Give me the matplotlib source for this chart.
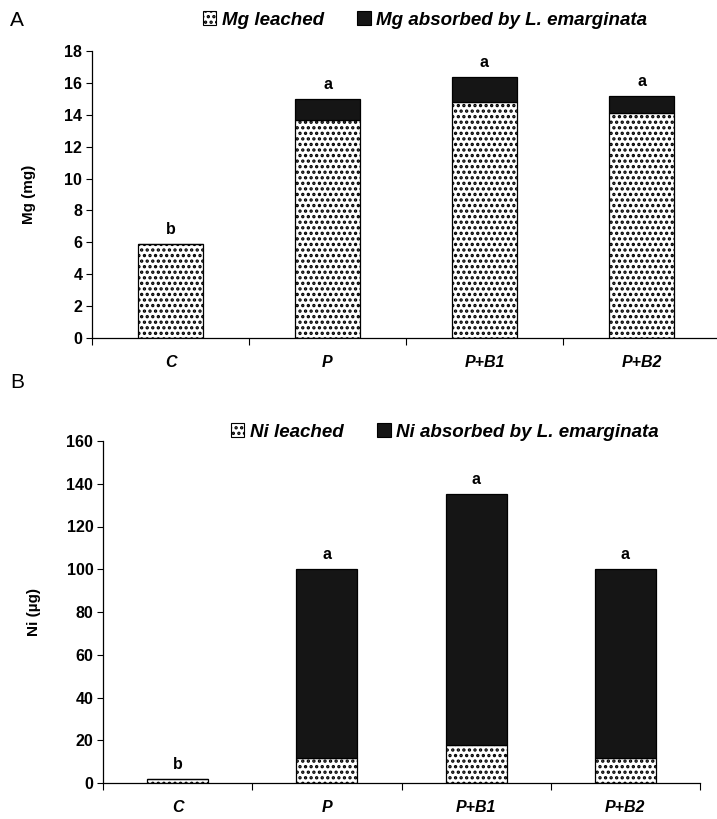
import matplotlib
matplotlib.use("Agg")
import matplotlib.pyplot as plt
import numpy as np
from matplotlib.patches import Patch

plt.rcParams['font.family'] = ['Liberation Sans', 'DejaVu Sans']
plt.rcParams['hatch.linewidth'] = 1.6

categories = ["C", "P", "P+B1", "P+B2"]
mg_leached = [5.9, 13.7, 14.8, 14.1]
mg_absorbed = [0.0, 1.3, 1.6, 1.1]
mg_letters = ["b", "a", "a", "a"]
ni_leached = [2.0, 11.7, 18.0, 11.5]
ni_absorbed = [0.0, 88.5, 117.0, 88.7]
ni_letters = ["b", "a", "a", "a"]

W, H = 717, 819
fig = plt.figure(figsize=(W / 100, H / 100), dpi=100)

def ax_rect(left, right, top, bottom):
    return [left / W, 1 - bottom / H, (right - left) / W, (bottom - top) / H]

axA = fig.add_axes(ax_rect(92, 720, 51, 338))
axB = fig.add_axes(ax_rect(103, 700, 441, 783))

dark = '#151515'
HATCH = '...'

def draw(ax, leached, absorbed, letters, ymax, ystep, ylabel, ylabelpad, leg_labels, leg_pos, panel, panel_pos):
    x = np.arange(len(categories))
    w = 0.41
    ax.bar(x, leached, width=w, facecolor='white', edgecolor='black', hatch=HATCH, linewidth=0.9, zorder=2)
    ax.bar(x, absorbed, width=w, bottom=leached, facecolor=dark, edgecolor='black', linewidth=0.9, zorder=2)
    tot = np.array(leached) + np.array(absorbed)
    for xi, t, l in zip(x, tot, letters):
        ax.annotate(l, (xi, t), xytext=(0, 5), textcoords='offset points', ha='center', va='bottom',
                    fontsize=11.5, fontweight='bold')
    ax.set_xlim(-0.5, len(categories) - 0.5)
    ax.set_ylim(0, ymax)
    ax.set_yticks(np.arange(0, ymax + ystep / 2, ystep))
    ax.set_xticks(x)
    ax.set_xticklabels(categories, fontsize=11.5, fontweight='bold', fontstyle='italic')
    ax.set_xticks(np.arange(-0.5, len(categories)), minor=True)
    ax.tick_params(axis='x', which='major', length=0, pad=12)
    ax.tick_params(axis='x', which='minor', length=5, width=0.8, direction='out')
    ax.tick_params(axis='y', length=4, width=0.8, labelsize=11.5, pad=3)
    for lab in ax.get_yticklabels():
        lab.set_fontweight('bold')
    ax.spines['top'].set_visible(False)
    ax.spines['right'].set_visible(False)
    ax.spines['left'].set_linewidth(0.9)
    ax.spines['bottom'].set_linewidth(0.9)
    ax.set_ylabel(ylabel, fontsize=11, fontweight='bold', labelpad=ylabelpad)
    handles = [Patch(facecolor='white', edgecolor='black', hatch=HATCH, linewidth=0.8),
               Patch(facecolor=dark, edgecolor='black', linewidth=0.8)]
    fig.legend(handles, leg_labels, loc='center', bbox_to_anchor=leg_pos, ncol=2, frameon=False,
               prop={'size': 13.5, 'weight': 'bold', 'style': 'italic'}, handlelength=0.7, handleheight=0.7,
               handletextpad=0.3, columnspacing=1.8)
    fig.text(panel_pos[0], panel_pos[1], panel, fontsize=15, ha='left', va='center')

draw(axA, mg_leached, mg_absorbed, mg_letters, 18, 2, 'Mg (mg)', 20,
     ['Mg leached', 'Mg absorbed by L. emarginata'], (425 / W, 1 - 20 / H), 'A', (10 / W, 1 - 20 / H))
draw(axB, ni_leached, ni_absorbed, ni_letters, 160, 20, 'Ni (µg)', 18,
     ['Ni leached', 'Ni absorbed by L. emarginata'], (445 / W, 1 - 432 / H), 'B', (10 / W, 1 - 383 / H))

fig.savefig('out.png', dpi=100)
